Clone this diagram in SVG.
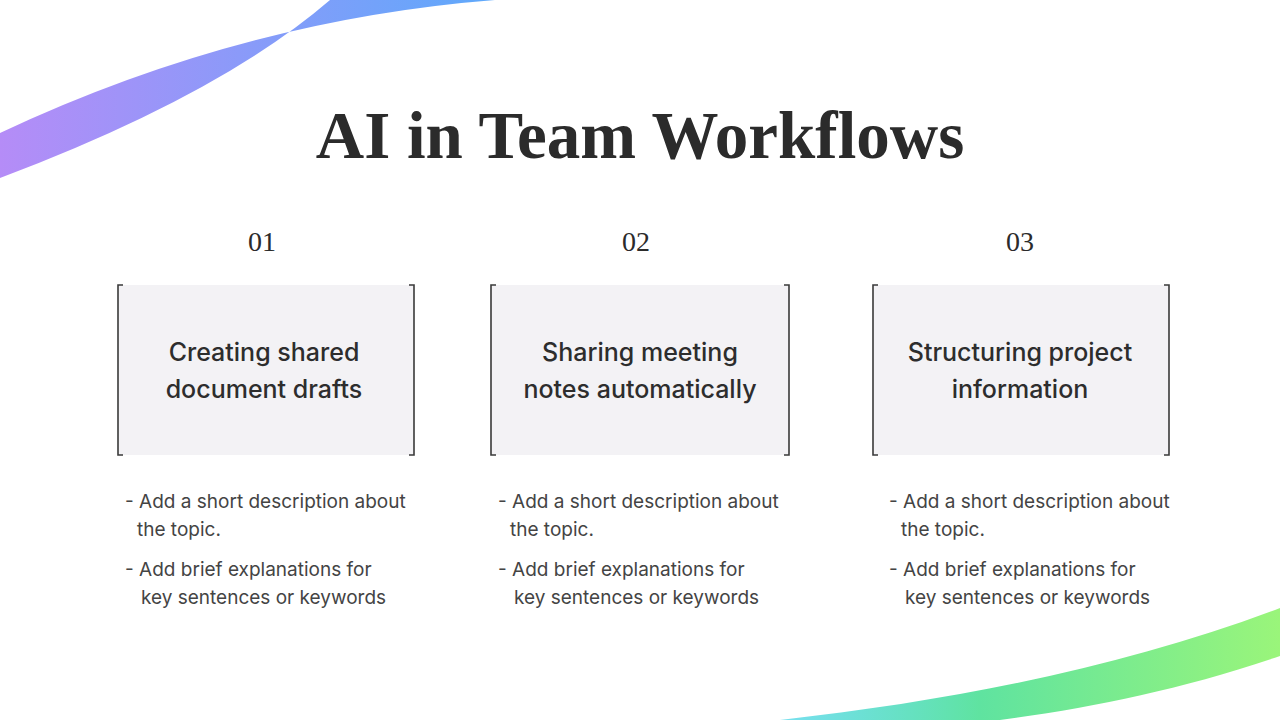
<svg xmlns="http://www.w3.org/2000/svg" width="1280" height="720" viewBox="0 0 1280 720">
<defs>
<linearGradient id="g1" x1="0" y1="0" x2="1" y2="0"><stop offset="0" stop-color="#b58cf7"/><stop offset="1" stop-color="#5ea9fb"/></linearGradient>
<linearGradient id="g2" x1="0" y1="0" x2="1" y2="0"><stop offset="0" stop-color="#3fd3e8" stop-opacity="0.7"/><stop offset="0.4" stop-color="#5fe3a0"/><stop offset="1" stop-color="#9af57a"/></linearGradient>
<style>
.box{fill:#f3f2f5}
.br{fill:none;stroke:#3a3a3a;stroke-width:1.6}
.num{font-family:"Liberation Serif",serif;font-size:28px;fill:#2b2b2b;text-anchor:middle}
.head{font-family:Inter,"Liberation Sans",sans-serif;font-size:25px;fill:#2d2d2d;text-anchor:middle;font-weight:500}
.desc{font-family:Inter,"Liberation Sans",sans-serif;font-size:19px;fill:#444}
</style>
</defs>
<rect width="1280" height="720" fill="#ffffff"/>
<path d="M0,133 Q240,20 495,0 L330,0 Q220,95 0,178 Z" fill="url(#g1)"/>
<path d="M780,720 C960,700 1130,665 1280,608 L1280,656 C1180,690 1090,708 1000,720 Z" fill="url(#g2)"/>
<text x="640" y="158" font-family="'Liberation Serif',serif" font-size="67" font-weight="bold" fill="#2b2b2b" text-anchor="middle">AI in Team Workflows</text>
<g id="node1">
<text class="num" x="262" y="251">01</text>
<rect class="box" x="118" y="285" width="296" height="170"/>
<path class="br" d="M123,285 H118 V455 H123 M409,285 H414 V455 H409"/>
<text class="head" x="264" y="361">Creating shared</text>
<text class="head" x="264" y="398">document drafts</text>
<text class="desc" x="125" y="508">- Add a short description about</text>
<text class="desc" x="137" y="536">the topic.</text>
<text class="desc" x="125" y="576">- Add brief explanations for</text>
<text class="desc" x="141" y="604">key sentences or keywords</text>
</g>
<g id="node2">
<text class="num" x="636" y="251">02</text>
<rect class="box" x="491" y="285" width="298" height="170"/>
<path class="br" d="M496,285 H491 V455 H496 M784,285 H789 V455 H784"/>
<text class="head" x="640" y="361">Sharing meeting</text>
<text class="head" x="640" y="398">notes automatically</text>
<text class="desc" x="498" y="508">- Add a short description about</text>
<text class="desc" x="510" y="536">the topic.</text>
<text class="desc" x="498" y="576">- Add brief explanations for</text>
<text class="desc" x="514" y="604">key sentences or keywords</text>
</g>
<g id="node3">
<text class="num" x="1020" y="251">03</text>
<rect class="box" x="873" y="285" width="296" height="170"/>
<path class="br" d="M878,285 H873 V455 H878 M1164,285 H1169 V455 H1164"/>
<text class="head" x="1020" y="361">Structuring project</text>
<text class="head" x="1020" y="398">information</text>
<text class="desc" x="889" y="508">- Add a short description about</text>
<text class="desc" x="901" y="536">the topic.</text>
<text class="desc" x="889" y="576">- Add brief explanations for</text>
<text class="desc" x="905" y="604">key sentences or keywords</text>
</g>
<g id="connectors"/>
</svg>
